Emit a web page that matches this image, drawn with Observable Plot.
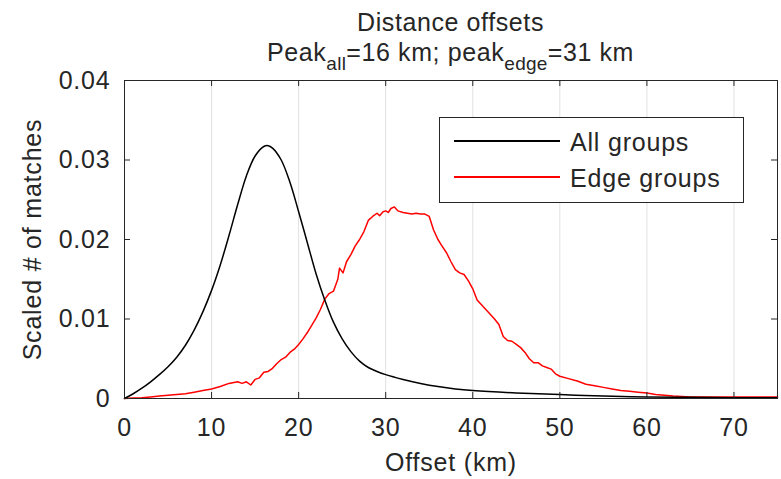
<!DOCTYPE html>
<html><head><meta charset="utf-8">
<script src="https://cdn.jsdelivr.net/npm/d3@7"></script>
<script src="https://cdn.jsdelivr.net/npm/@observablehq/plot@0.6"></script>
<style>
body{margin:0;background:#fff;font-family:"Liberation Sans",Arial,sans-serif;color:#262626;}
#wrap{position:relative;width:781px;height:479px;overflow:hidden;}
#title{position:absolute;left:124px;width:653px;top:7px;text-align:center;font-size:25px;line-height:30px;letter-spacing:0.6px;}
#title sub{font-size:19px;line-height:0;vertical-align:-9px;letter-spacing:0.3px;}
#legend{position:absolute;left:439px;top:117px;width:305px;height:86px;border:1px solid #262626;background:#fff;box-sizing:border-box;font-size:25px;letter-spacing:0.8px;}
.row{position:absolute;left:0;height:30px;width:100%;}
.sw{position:absolute;left:14px;width:106px;top:13px;height:2px;}
.lab{position:absolute;left:130px;top:0;line-height:30px;white-space:nowrap;}
</style></head>
<body><div id="wrap"><div id="chart"></div><div id="title"></div><div id="legend"></div></div>
<script>
const titleLine1 = "Distance offsets";
const seriesNames = ["All groups", "Edge groups"];
const seriesColors = ["#000000", "#ff0000"];
const xLabel = "Offset (km)";
const yLabel = "Scaled # of matches";
const xTicks = [0, 10, 20, 30, 40, 50, 60, 70];
const yTicks = [0, 0.01, 0.02, 0.03, 0.04];
const yTickLabels = ["0", "0.01", "0.02", "0.03", "0.04"];

const allX = [0,1,2,3,4,5,6,7,8,9,10,11,12,13,14,15,16,16.5,17,18,19,20,21,22,23,24,25,26,27,28,29,30,32,34,36,38,40,45,50,55,60,65,70,75];
const allY = [0,0.0006,0.0013,0.0021,0.0030,0.0040,0.0052,0.0067,0.0086,0.0109,0.0136,0.0168,0.0205,0.0244,0.0280,0.0305,0.0317,0.0318,0.0315,0.0300,0.0272,0.0235,0.0196,0.0157,0.0124,0.0096,0.0075,0.0059,0.0047,0.0039,0.0034,0.0030,0.0024,0.0019,0.0015,0.0012,0.0010,0.0007,0.0005,0.0003,0.0002,0.00015,0.0001,0.00008];

const edgeX = [0,1,2,3,4,5,6,7,8,9,10,11,12,13,13.5,14,14.5,15,15.5,16,16.5,17,17.5,18,18.5,19,19.5,20,20.5,21,21.5,22,22.5,23,23.5,24,24.5,24.7,25.1,25.5,26,26.5,27,27.5,28,28.5,29,29.3,29.7,30,30.3,30.6,31,31.4,32,32.5,33,33.5,34,34.5,35,35.5,36,36.4,37,37.5,38,38.5,39,39.5,40,40.5,41,41.5,42,42.5,43,43.5,44,44.5,45,45.5,46,46.5,47,47.5,48,48.5,49,49.5,50,51,52,53,54,55,56,57,58,59,60,61,62,63,65,70,75];
const edgeY = [0,0.00005,0.0001,0.0002,0.0003,0.0004,0.0005,0.0006,0.0008,0.001,0.0012,0.0015,0.0019,0.0021,0.0019,0.0021,0.0017,0.0024,0.0026,0.0033,0.0034,0.0038,0.0044,0.0049,0.0052,0.0058,0.0062,0.0068,0.0075,0.0083,0.0092,0.0101,0.0112,0.0125,0.0132,0.0135,0.0150,0.0164,0.0158,0.0172,0.0181,0.0192,0.0200,0.0210,0.0224,0.0229,0.0233,0.0230,0.0235,0.0236,0.0234,0.0239,0.0241,0.0236,0.0234,0.0233,0.0232,0.0233,0.0232,0.0232,0.0229,0.0212,0.0200,0.0193,0.0183,0.0172,0.0162,0.0158,0.0156,0.0148,0.0138,0.0124,0.0118,0.0112,0.0106,0.0100,0.0093,0.0078,0.0073,0.0072,0.0068,0.0064,0.0058,0.0050,0.0045,0.0045,0.0041,0.0039,0.0037,0.0031,0.0028,0.0025,0.0022,0.0018,0.0016,0.0014,0.0012,0.0010,0.0009,0.0008,0.0007,0.0005,0.0004,0.0003,0.0002,0.0002,0.0002];

const allData = allX.map((x, i) => ({x, y: allY[i]}));
const edgeData = edgeX.map((x, i) => ({x, y: edgeY[i]}));

const W = 781, H = 479, mL = 124, mR = 4, mT = 80, mB = 81;
const pw = W - mL - mR, ph = H - mT - mB;
const ink = "#262626";

const chart = Plot.plot({
  width: W, height: H,
  marginLeft: mL, marginRight: mR, marginTop: mT, marginBottom: mB,
  style: {fontFamily: '"Liberation Sans", Arial, sans-serif', fontSize: "25px", letterSpacing: "0.8px", color: ink, background: "#fff"},
  x: {domain: [0, 75]},
  y: {domain: [0, 0.04]},
  marks: [
    Plot.ruleX(xTicks.filter(d => d > 0), {x: d => d, stroke: "#000", strokeOpacity: 0.12}),
    Plot.line(edgeData, {x: "x", y: "y", stroke: seriesColors[1], strokeWidth: 1.5}),
    Plot.line(allData, {x: "x", y: "y", stroke: seriesColors[0], strokeWidth: 1.5, curve: "catmull-rom"}),
    Plot.frame({stroke: ink, strokeWidth: 1}),
    Plot.tickX(xTicks, {x: d => d, insetTop: ph - 6, stroke: ink}),
    Plot.tickX(xTicks, {x: d => d, insetBottom: ph - 6, stroke: ink}),
    Plot.tickY(yTicks, {y: d => d, insetRight: pw - 6, stroke: ink}),
    Plot.tickY(yTicks, {y: d => d, insetLeft: pw - 6, stroke: ink}),
    Plot.axisX(xTicks, {tickSize: 0, tickPadding: 20, label: null, fontSize: 25, fill: ink}),
    Plot.axisY(yTicks, {tickSize: 0, tickPadding: 14, label: null, fontSize: 25, fill: ink,
      tickFormat: d => yTickLabels[yTicks.indexOf(d)]}),
    Plot.text([xLabel], {frameAnchor: "bottom", dy: 64, lineAnchor: "middle", fontSize: 25, fill: ink}),
    Plot.text([yLabel], {frameAnchor: "left", dx: -92, rotate: -90, lineAnchor: "middle", textAnchor: "middle", fontSize: 25, fill: ink})
  ]
});
document.getElementById("chart").appendChild(chart);

document.getElementById("title").innerHTML =
  titleLine1 + "<br>Peak<sub>all</sub>=16 km; peak<sub>edge</sub>=31 km";

const legend = document.getElementById("legend");
seriesNames.forEach((name, i) => {
  const row = document.createElement("div");
  row.className = "row";
  row.style.top = (i === 0 ? 9 : 45) + "px";
  const sw = document.createElement("div");
  sw.className = "sw";
  sw.style.backgroundColor = seriesColors[i];
  const lab = document.createElement("div");
  lab.className = "lab";
  lab.textContent = name;
  row.appendChild(sw);
  row.appendChild(lab);
  legend.appendChild(row);
});
</script>
</body></html>
